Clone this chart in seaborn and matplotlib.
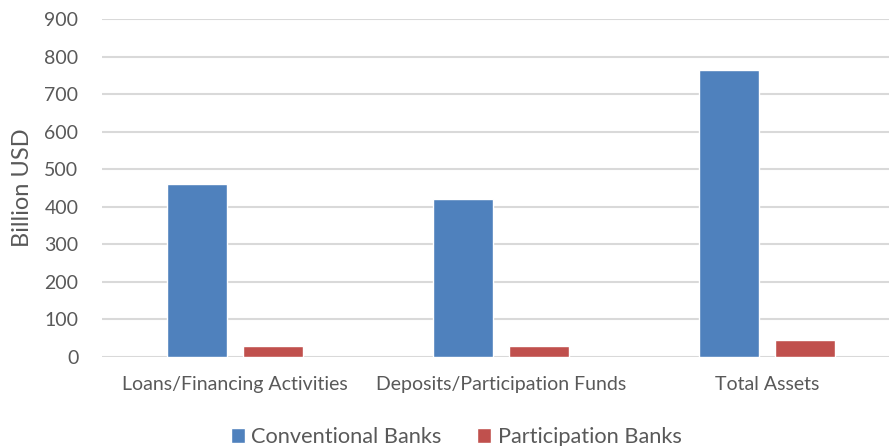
import matplotlib
matplotlib.use("Agg")
import matplotlib.pyplot as plt
import seaborn as sns
import pandas as pd

categories = ["Loans/Financing Activities", "Deposits/Participation Funds", "Total Assets"]
conventional = [460, 421, 764]
participation = [30, 29, 44]
series_names = ["Conventional Banks", "Participation Banks"]
yticks = [0, 100, 200, 300, 400, 500, 600, 700, 800, 900]

df = pd.DataFrame({
    "category": categories * 2,
    "bank": [series_names[0]] * 3 + [series_names[1]] * 3,
    "value": conventional + participation,
})

sns.set_theme(style="white")
plt.rcParams["font.family"] = ["Lato", "DejaVu Sans"]
text_color = "#595959"

fig = plt.figure(figsize=(8.89, 4.46), dpi=100)
ax = fig.add_axes([102 / 889, 1 - 357 / 446, 798 / 889, 338 / 446])

sns.barplot(data=df, x="category", y="value", hue="bank",
            palette=["#4F81BD", "#C0504D"], width=0.572, gap=0.21,
            saturation=1, ax=ax, zorder=3)

ax.set_xlim(-0.5, 2.5)
ax.set_ylim(0, 900)
ax.set_yticks(yticks)
ax.yaxis.grid(True, color="#D9D9D9", linewidth=1.5, zorder=0)
ax.set_axisbelow(True)
for s in ax.spines.values():
    s.set_visible(False)
ax.tick_params(axis="both", length=0, labelsize=14, labelcolor=text_color)
ax.tick_params(axis="x", pad=14)
ax.tick_params(axis="y", pad=17)
ax.set_xlabel("")
ax.set_ylabel("Billion USD", fontsize=17, color=text_color, labelpad=8)

handles, labels = ax.get_legend_handles_labels()
ax.legend(handles, labels, loc="center", bbox_to_anchor=(456 / 889, 1 - 437 / 446),
          bbox_transform=fig.transFigure, ncol=2, frameon=False,
          fontsize=15.7, labelcolor=text_color, handlelength=0.65, handleheight=0.65,
          handletextpad=0.28, columnspacing=1.65)

fig.savefig("out.png", dpi=100)
